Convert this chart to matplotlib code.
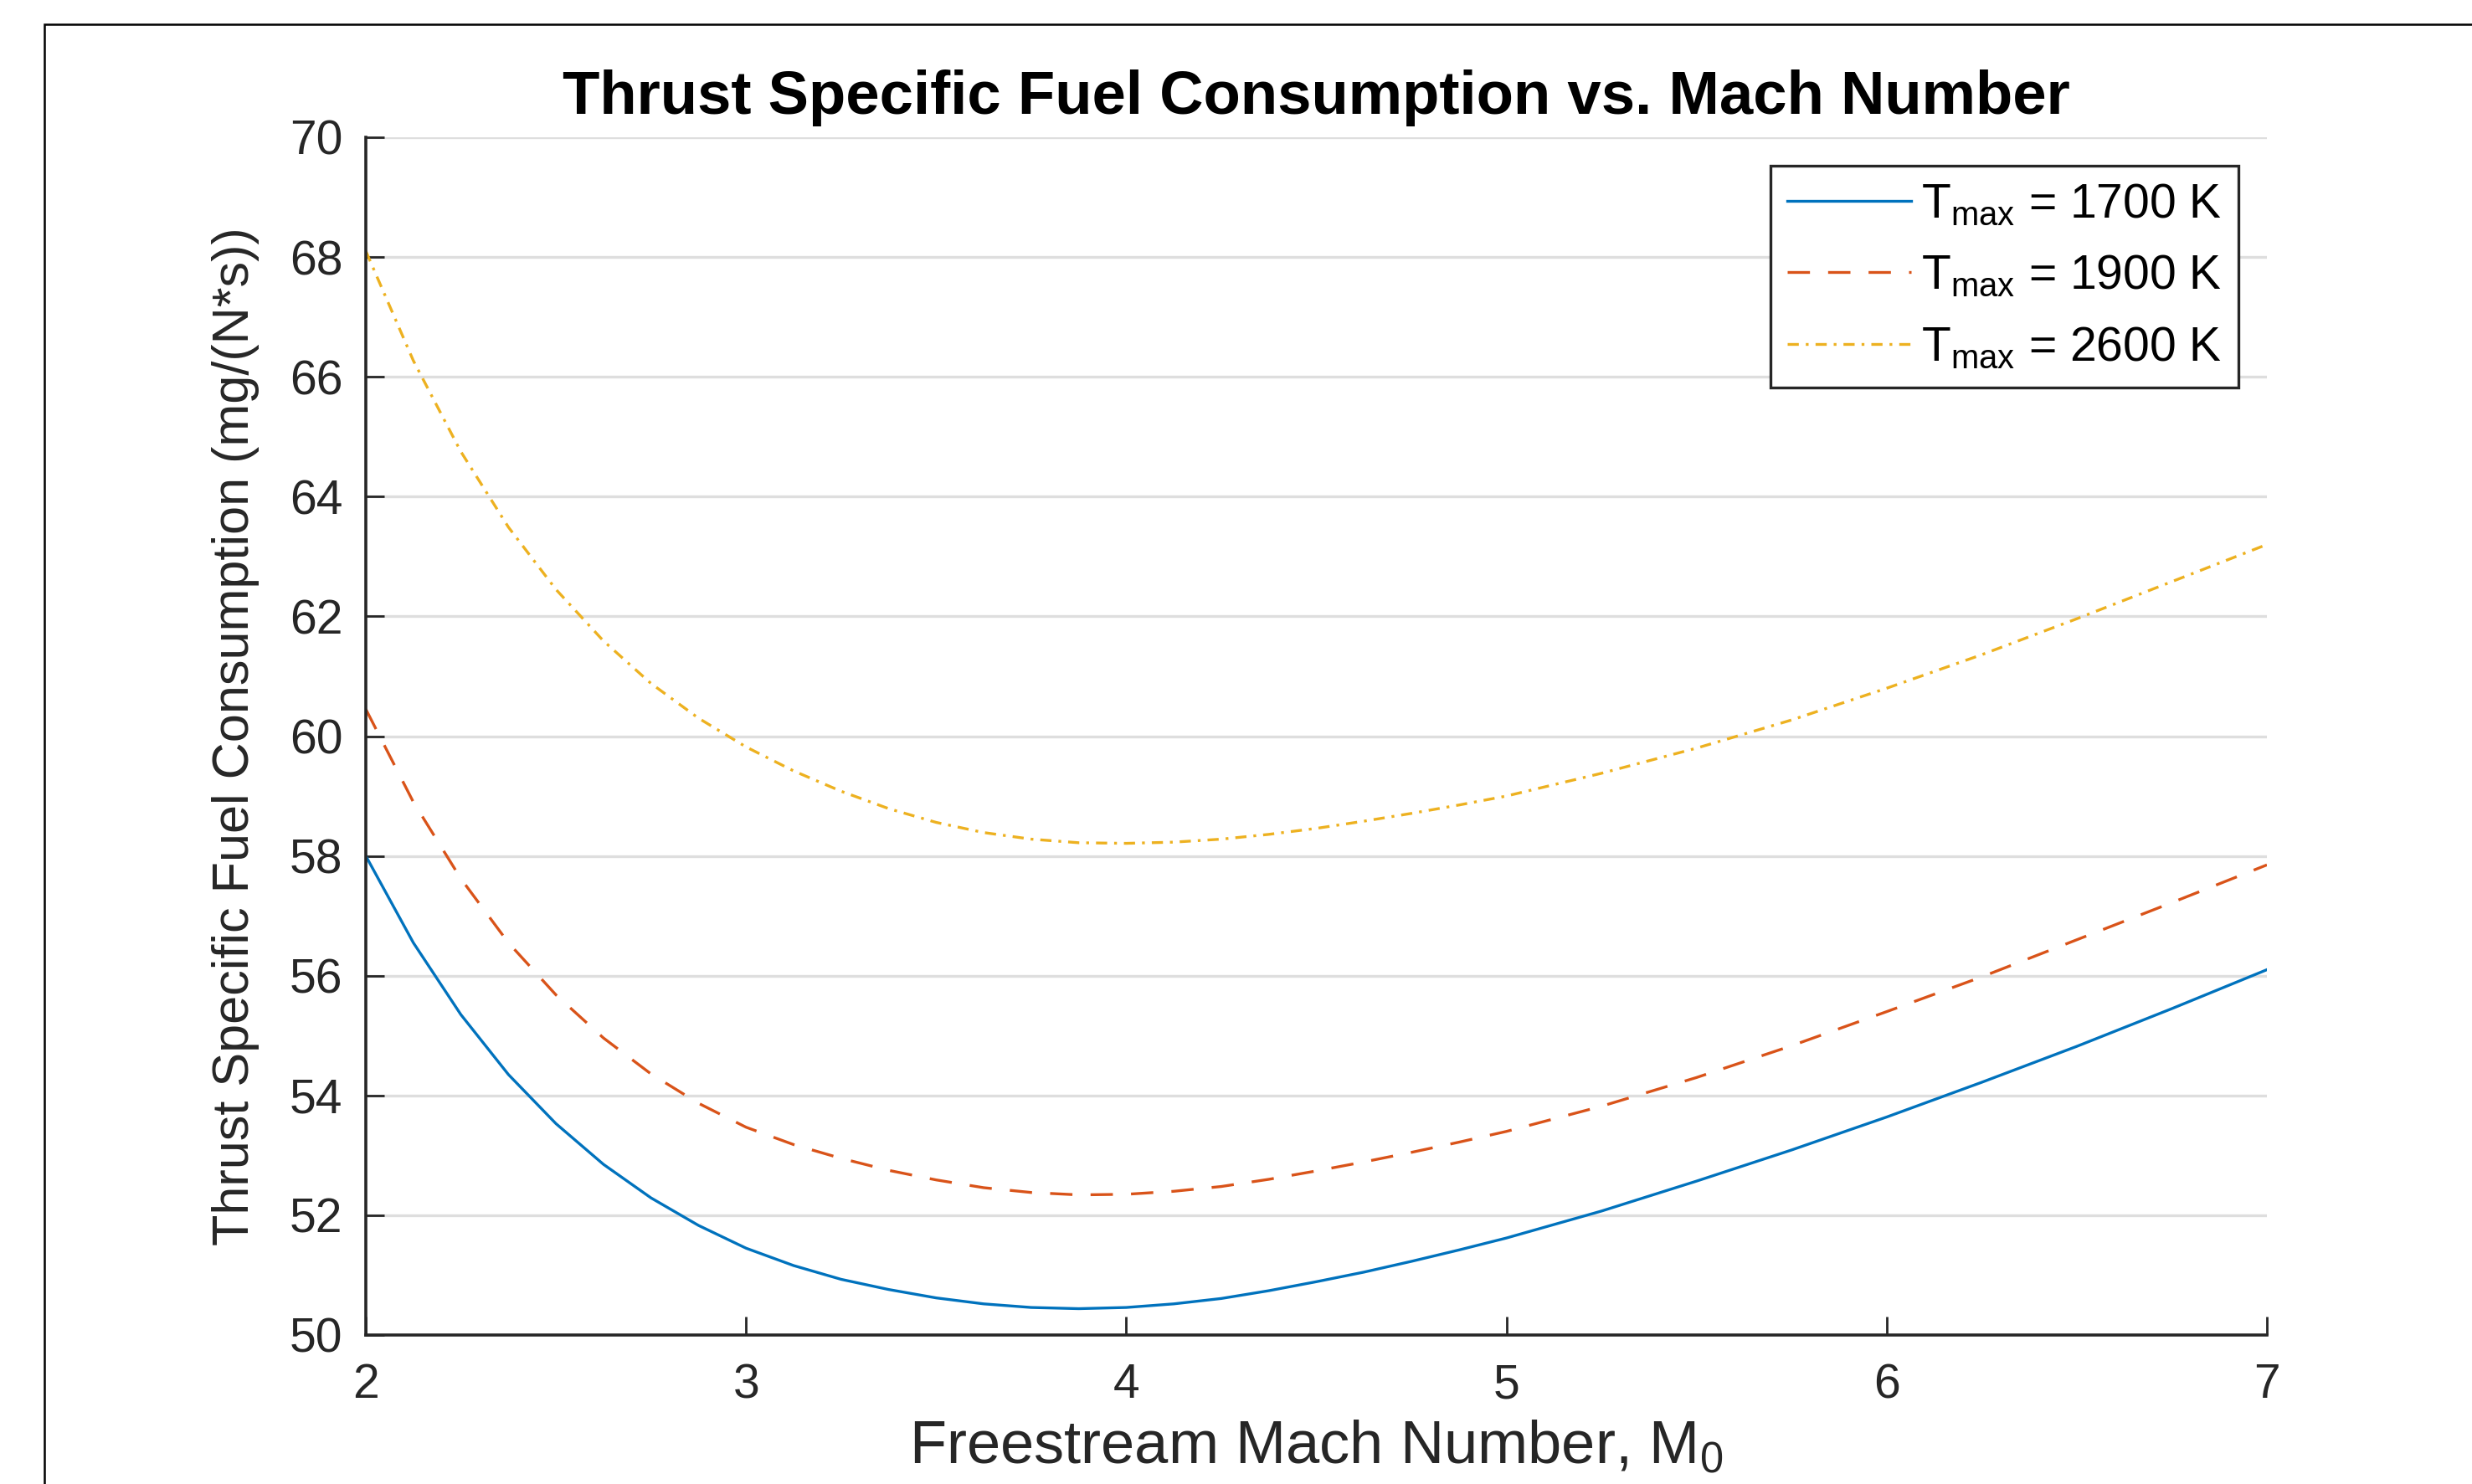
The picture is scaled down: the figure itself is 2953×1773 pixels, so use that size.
import matplotlib
matplotlib.use('Agg')
import matplotlib.pyplot as plt
from matplotlib.patches import Rectangle

# числа Маха, в которых сняты значения с графика
mach = [2.0, 2.125, 2.25, 2.375, 2.5, 2.625, 2.75, 2.875,
        3.0, 3.125, 3.25, 3.375, 3.5, 3.625, 3.75, 3.875,
        4.0, 4.125, 4.25, 4.375, 4.5, 4.625, 4.75, 4.875,
        5.0, 5.25, 5.5, 5.75, 6.0, 6.25, 6.5, 6.75, 7.0]

# TSFC, mg/(N*s), для трёх температур
tsfc_1700 = [58.0, 56.55, 55.35, 54.35, 53.53, 52.85, 52.29, 51.83,
             51.45, 51.16, 50.93, 50.76, 50.62, 50.52, 50.46, 50.44,
             50.46, 50.52, 50.61, 50.74, 50.89, 51.05, 51.23, 51.42,
             51.62, 52.07, 52.57, 53.09, 53.64, 54.22, 54.82, 55.45, 56.1]
tsfc_1900 = [60.45, 58.9, 57.62, 56.55, 55.68, 54.96, 54.36, 53.87,
             53.47, 53.18, 52.95, 52.75, 52.59, 52.46, 52.38, 52.34,
             52.35, 52.4, 52.48, 52.6, 52.74, 52.89, 53.05, 53.22,
             53.4, 53.82, 54.3, 54.83, 55.4, 55.98, 56.6, 57.22, 57.85]
tsfc_2600 = [68.1, 66.27, 64.75, 63.49, 62.45, 61.59, 60.88, 60.3,
             59.82, 59.42, 59.08, 58.79, 58.56, 58.39, 58.28, 58.22,
             58.21, 58.23, 58.28, 58.36, 58.46, 58.58, 58.71, 58.85,
             59.0, 59.38, 59.8, 60.27, 60.8, 61.36, 61.96, 62.58, 63.2]

labels = ['1700', '1900', '2600']
x_ticks = [2, 3, 4, 5, 6, 7]
y_ticks = [50, 52, 54, 56, 58, 60, 62, 64, 66, 68, 70]

plt.rcParams['font.family'] = ['Liberation Sans', 'DejaVu Sans']
plt.rcParams['mathtext.default'] = 'regular'

fig = plt.figure(figsize=(14.765, 8.865), dpi=200)
# рамка окна, как на скриншоте
top = 1 - 29 / 1773
fig.patches.append(Rectangle((53 / 2953, -0.2), 1.2, top + 0.2,
                             transform=fig.transFigure, fill=False,
                             edgecolor='black', linewidth=0.9))

ax = fig.add_axes([437 / 2953, 1 - 1595 / 1773, (2708 - 437) / 2953, (1595 - 164) / 1773])

ax.plot(mach, tsfc_1700, color='#0072BD', linewidth=1.2,
        label='T$_{max}$ = ' + labels[0] + ' K')
ax.plot(mach, tsfc_1900, color='#D95319', linewidth=1.2, linestyle=(0, (8, 6.5)),
        label='T$_{max}$ = ' + labels[1] + ' K')
ax.plot(mach, tsfc_2600, color='#EDB120', linewidth=1.2, linestyle=(0, (4, 2.5, 1, 2.5)),
        label='T$_{max}$ = ' + labels[2] + ' K')

ax.set_xlim(2, 7)
ax.set_ylim(50, 70)
ax.set_xticks(x_ticks)
ax.set_yticks(y_ticks)
ax.tick_params(direction='in', length=8, width=1.0, colors='#262626',
               labelsize=20.5, labelcolor='#262626')
ax.tick_params(axis='x', pad=12)
ax.tick_params(axis='y', pad=10)
ax.grid(axis='y', color='#DEDEDE', linewidth=1.2)
ax.set_axisbelow(True)
for side in ['top', 'right']:
    ax.spines[side].set_visible(False)
for side in ['left', 'bottom']:
    ax.spines[side].set_linewidth(1.3)
    ax.spines[side].set_color('#262626')

ax.set_title('Thrust Specific Fuel Consumption vs. Mach Number',
             fontsize=26.1, fontweight='bold', pad=10)
ax.set_ylabel('Thrust Specific Fuel Consumption (mg/(N*s))', fontsize=22,
              color='#262626', va='center')
ax.yaxis.set_label_coords(-0.0683, 0.5)
ax.set_xlabel('Freestream Mach Number, M$_0$', fontsize=26, color='#262626', va='center')
ax.xaxis.set_label_coords(0.5, -0.0936)

leg = ax.legend(loc='upper right', fontsize=20.5, handlelength=2.6, handletextpad=0.2,
                borderpad=0.35, fancybox=False, framealpha=1, borderaxespad=0.6,
                labelspacing=0.55)
leg.get_frame().set_edgecolor('#262626')
leg.get_frame().set_linewidth(1.2)

fig.savefig('out.png', dpi=200)
